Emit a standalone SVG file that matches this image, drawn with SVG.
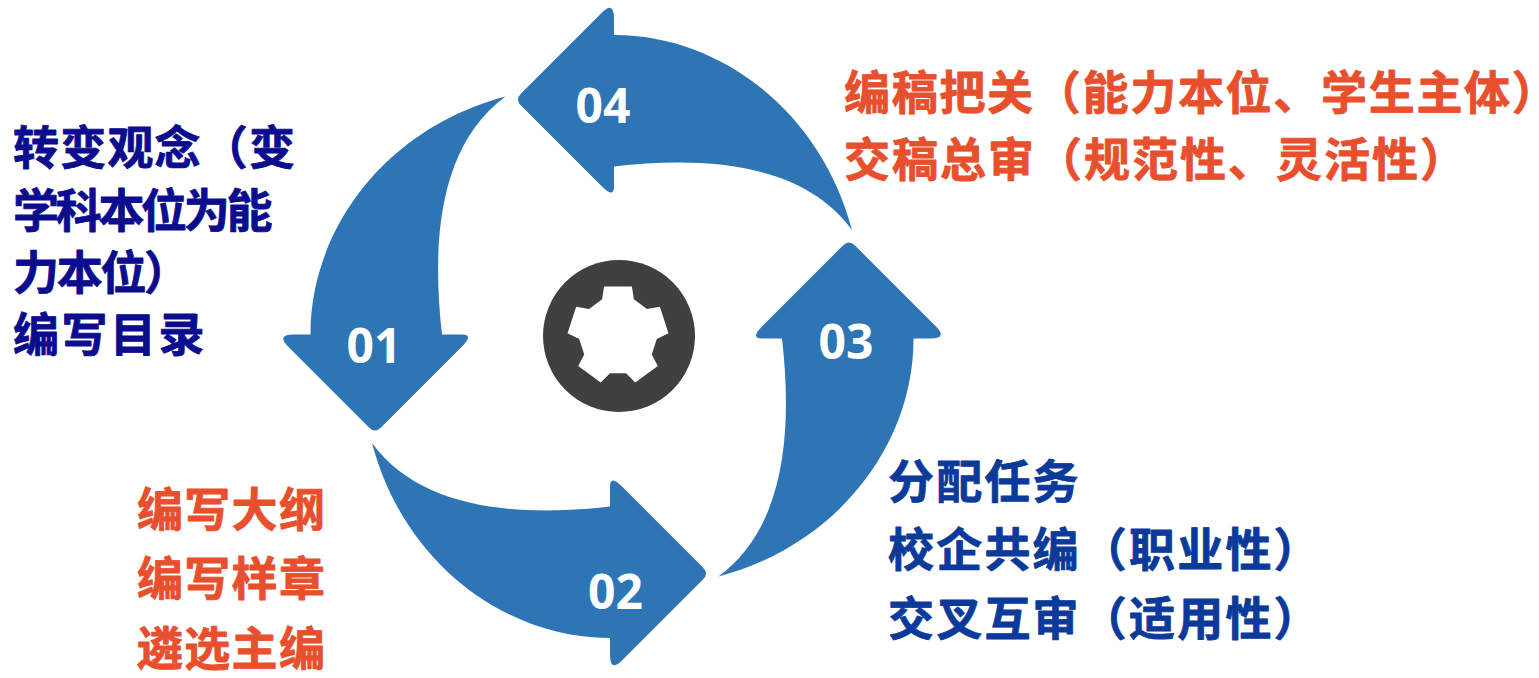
<svg xmlns="http://www.w3.org/2000/svg" width="1539" height="678" viewBox="0 0 1539 678">
  <defs>
    <style>
      .arrow { fill: #2e75b6; }
      .num { font-family: "Open Sans", "Liberation Sans", sans-serif; font-weight: 700; font-size: 48px; fill: #ffffff; text-anchor: middle; }
      .cn { font-family: "Noto Sans CJK SC", "Noto Sans", sans-serif; font-weight: 700; font-size: 46px; stroke-width: 0.8; stroke-linejoin: round; }
      .navy { fill: #0c0c8e; stroke: #0c0c8e; }
      .red { fill: #e84f2d; stroke: #e84f2d; }
      .blue { fill: #0b3a9a; stroke: #0b3a9a; }
    </style>
    <path id="arrowShape" d="M 2,-301.5 C 105,-302 208,-228 240,-106.5 C 190,-175 90,-180 2,-170 L 2,-150 Q 2,-138 -10,-150 L -91,-231 Q -97,-237 -91,-243 L -10,-324 Q 2,-336 2,-318 Z"/>
  </defs>
  <rect width="1539" height="678" fill="#ffffff"/>

  <g id="connectors">
    <use id="arrow-04" href="#arrowShape" class="arrow" transform="translate(612,336.5)"/>
    <use id="arrow-01" href="#arrowShape" class="arrow" transform="translate(612,336.5) rotate(-90)"/>
    <use id="arrow-02" href="#arrowShape" class="arrow" transform="translate(612,336.5) rotate(180)"/>
    <use id="arrow-03" href="#arrowShape" class="arrow" transform="translate(612,336.5) rotate(90)"/>
  </g>

  <g id="gear">
    <circle cx="619" cy="336" r="76" fill="#404040"/>
    <polygon fill="#ffffff" points="604.08,286.45 631.92,286.45 633.86,299.37 646.98,308.91 659.86,306.76 668.47,333.24 656.79,339.08 651.77,354.5 657.8,366.09 635.27,382.45 626.11,373.15 609.89,373.15 600.73,382.45 578.2,366.09 584.23,354.5 579.21,339.08 567.53,333.24 576.14,306.76 589.02,308.91 602.14,299.37"/>
  </g>

  <g id="node-01">
    <text class="num" x="374" y="363">01</text>
    <text class="cn navy" x="13" y="164" letter-spacing="1.2">转变观念（变</text>
    <text class="cn navy" x="13" y="226.5" letter-spacing="-3.3">学科本位为能</text>
    <text class="cn navy" x="13" y="289" letter-spacing="-2.3">力本位）</text>
    <text class="cn navy" x="13" y="351" letter-spacing="2.5">编写目录</text>
  </g>

  <g id="node-02">
    <text class="num" x="615.5" y="609">02</text>
    <text class="cn red" x="137" y="526" letter-spacing="1.3">编写大纲</text>
    <text class="cn red" x="137" y="595" letter-spacing="1.3">编写样章</text>
    <text class="cn red" x="137" y="665" letter-spacing="1.3">遴选主编</text>
  </g>

  <g id="node-03">
    <text class="num" x="846" y="359">03</text>
    <text class="cn blue" x="888" y="498" letter-spacing="2.2">分配任务</text>
    <text class="cn blue" x="888" y="566" letter-spacing="2.2">校企共编（职业性）</text>
    <text class="cn blue" x="888" y="635" letter-spacing="2.2">交叉互审（适用性）</text>
  </g>

  <g id="node-04">
    <text class="num" x="603" y="123">04</text>
    <text class="cn red" x="844" y="109" letter-spacing="1.7">编稿把关（能力本位、学生主体）</text>
    <text class="cn red" x="844" y="176" letter-spacing="2">交稿总审（规范性、灵活性）</text>
  </g>
</svg>
